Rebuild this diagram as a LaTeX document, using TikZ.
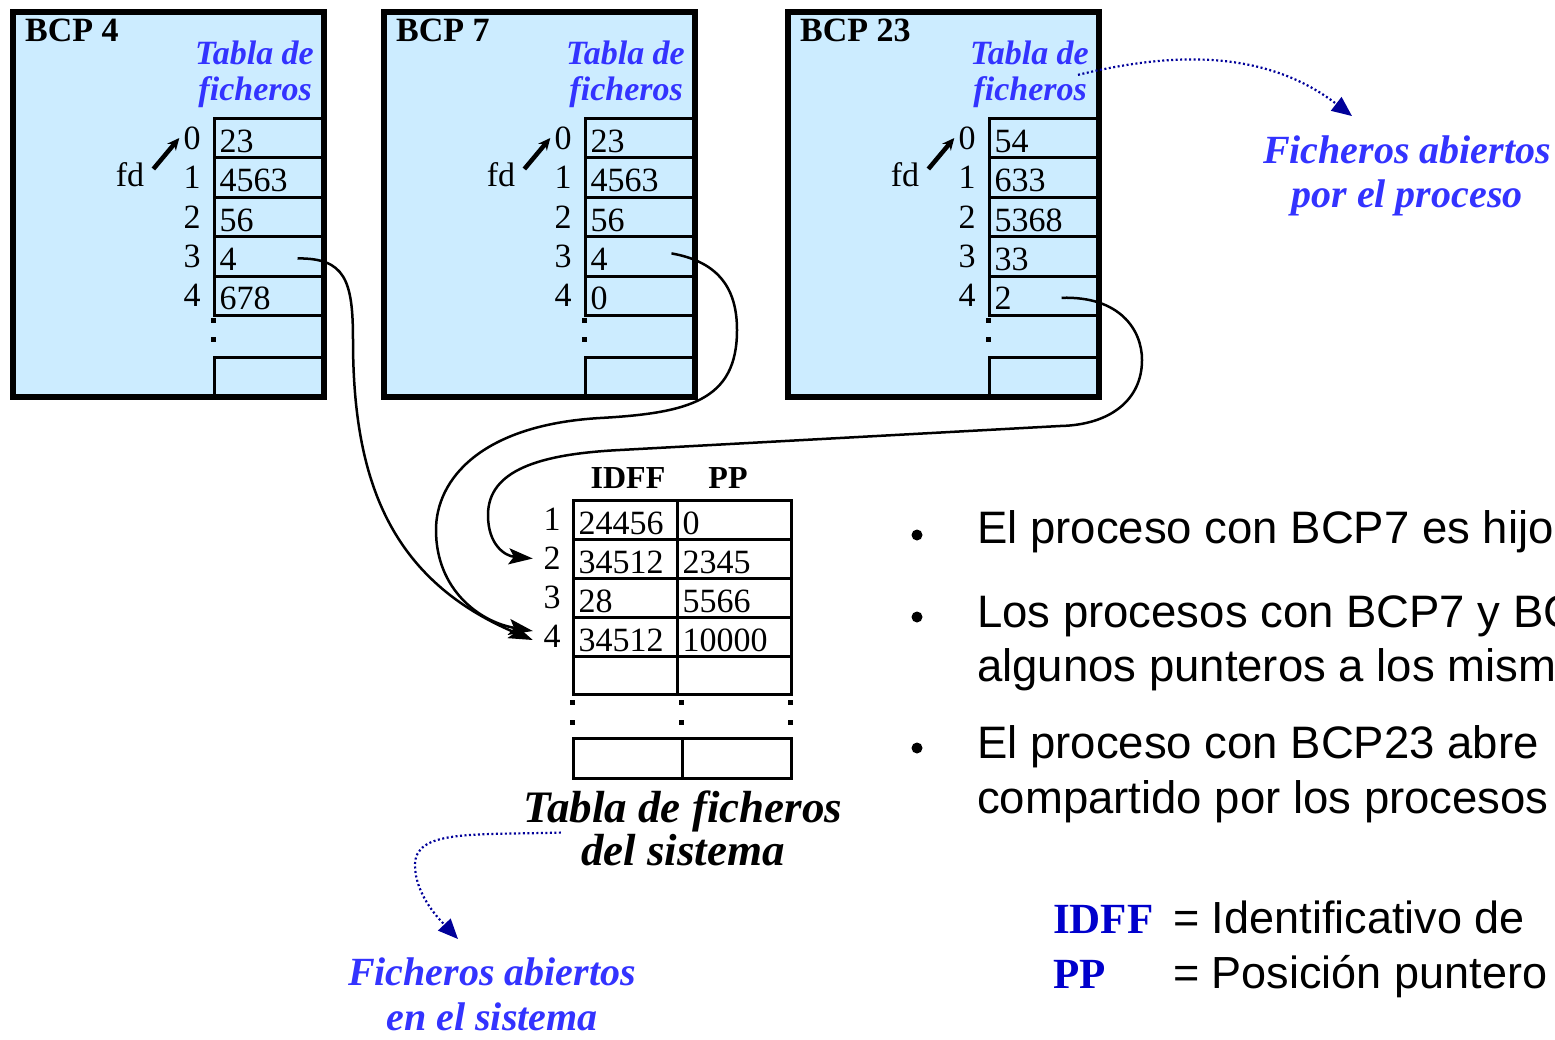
\documentclass[tikz,border=0pt]{standalone}
\usepackage{fontspec}
\setmainfont{Liberation Serif}
\setsansfont{Liberation Sans}
\usetikzlibrary{arrows.meta, positioning}
\definecolor{bcpfill}{RGB}{204,236,255}
\definecolor{tabblue}{RGB}{51,51,255}
\definecolor{noteblue}{RGB}{0,0,153}
\definecolor{keyblue}{RGB}{0,0,204}
\newcommand{\setfs}[2]{\fontsize{#1}{#2}\selectfont}

\begin{document}
\begin{tikzpicture}[x=1pt, y=-1pt,
    bcpbox/.style={draw=black, line width=5.5pt, fill=bcpfill, anchor=north west, inner sep=0pt, minimum width=311pt, minimum height=385pt},
    cell/.style={draw=black, line width=3pt, anchor=north west, inner xsep=5pt, inner ysep=0pt, text width=#1, text height=28pt, text depth=0pt, align=left, minimum height=39.4pt, font=\setfs{34}{40}},
    num/.style={inner sep=1pt, font=\setfs{34}{40}},
    bcptitle/.style={inner sep=1pt, anchor=base west, font=\setfs{34}{40}\bfseries},
    tabla/.style={inner sep=1pt, anchor=base east, text=tabblue, font=\setfs{34}{40}\bfseries\itshape},
    colhead/.style={inner sep=1pt, anchor=base, font=\setfs{32}{38}\bfseries},
    caption/.style={inner sep=1pt, anchor=base, font=\setfs{45}{52}\bfseries\itshape},
    bluelabel/.style={inner sep=1pt, anchor=base, text=tabblue, font=\setfs{40}{46}\bfseries\itshape},
    bultext/.style={inner sep=0pt, anchor=base west, font=\sffamily\setfs{45.5}{52}},
    keyword/.style={inner sep=0pt, anchor=base west, text=keyblue, font=\setfs{43}{50}\bfseries},
    bul/.style={circle, fill=black, inner sep=0pt, minimum size=11pt},
    dot/.style={fill=black, inner sep=0pt, minimum size=5pt},
    link/.style={line width=2.5pt, -{Stealth[length=24pt,width=16pt,inset=5pt]}},
    fdarrow/.style={line width=4.5pt, -{Stealth[length=12pt,width=11pt]}},
    note/.style={line width=2.2pt, noteblue, dash pattern=on 2pt off 2.5pt, -{Triangle[length=20pt,width=17pt]}}
]
\useasboundingbox (0,0) rectangle (1555,1039);
\clip (0,0) rectangle (1555,1039);

% Process control blocks with their file tables
\foreach \b/\L/\vals in {4/10/{23,4563,56,4,678}, 7/381/{23,4563,56,4,0}, 23/785/{54,633,5368,33,2}} {
  \node[bcpbox] (bcp\b) at (\L,9) {};
  \node[bcptitle] (tit\b) at (\L+14,41) {BCP \b};
  \node[tabla] (tab\b) at (\L+305,64) {Tabla de};
  \node[tabla] (fich\b) at (\L+303,100) {ficheros};
  \foreach \v [count=\r from 0] in \vals {
    \node[cell=98pt] (c\b-\r) at (\L+203,117+39.4*\r) {\v};
    \node[num] (i\b-\r) at (\L+182,138+39.4*\r) {\r};
  }
  \node[dot] (dt\b-1) at (\L+203,320) {};
  \node[dot] (dt\b-2) at (\L+203,339) {};
  \node[cell=98pt, minimum height=38pt] (c\b-x) at (\L+203,356) {};
  \node[num] (fd\b) at (\L+120,175) {fd};
  \draw[fdarrow] ([xshift=8pt,yshift=6pt]fd\b.east) -- ([xshift=-3pt]i\b-0.west);
}

% System file table
\node[colhead] (hid) at (628,488) {IDFF};
\node[colhead] (hpp) at (728,488) {PP};
\foreach \r/\id/\pp in {1/24456/0, 2/34512/2345, 3/28/5566, 4/34512/10000} {
  \node[cell=94pt, minimum height=39pt] (id\r) at (572,460+39*\r) {\id};
  \node[cell=104pt, minimum height=39pt] (pp\r) at (676,460+39*\r) {\pp};
  \node[num] (n\r) at (552,480.5+39*\r) {\r};
}
\node[cell=94pt, minimum height=38pt] (id5) at (572,655) {};
\node[cell=104pt, minimum height=38pt] (pp5) at (676,655) {};
\foreach \x [count=\k] in {572,681,790} {
  \node[dot] (sd\k-1) at (\x,702) {};
  \node[dot] (sd\k-2) at (\x,722) {};
}
\node[cell=99pt, minimum height=40pt] (id6) at (572,737) {};
\node[cell=99pt, minimum height=40pt] (pp6) at (681,737) {};
\node[caption] (systab1) at (683,822) {Tabla de ficheros};
\node[caption] (systab2) at (683,865) {del sistema};

% Pointers into the system table
\draw[link] ([xshift=29pt,yshift=-2pt]c4-3.center) .. controls (345,258) and (353,280) .. (353,340)
  .. controls (353,480) and (390,580) .. ([xshift=-9.5pt,yshift=-3.5pt]n4.west);
\draw[link] ([xshift=32pt,yshift=3pt]c7-3.center) .. controls (720,262) and (737,290) .. (737,330)
  .. controls (737,400) and (690,413) .. (600,418)
  .. controls (480,425) and (436,480) .. (436,530)
  .. controls (436,590) and (480,622) .. ([xshift=-9.5pt,yshift=5.5pt]n4.west);
\draw[link] ([xshift=18pt,yshift=-2pt]c23-4.center) .. controls (1120,296) and (1142,330) .. (1142,360)
  .. controls (1142,400) and (1110,425) .. (1060,426) -- (620,450)
  .. controls (540,454) and (488,470) .. (488,515)
  .. controls (488,545) and (505,556) .. ([xshift=-9.5pt]n2.west);

% Blue notes
\node[bluelabel] (fap1) at (1407,163) {Ficheros abiertos};
\node[bluelabel] (fap2) at (1407,207) {por el proceso};
\node[bluelabel] (fas1) at (492,985) {Ficheros abiertos};
\node[bluelabel] (fas2) at (492,1030) {en el sistema};
\draw[note] ([xshift=-10pt]fich23.north east) .. controls (1160,55) and (1260,45) .. ([xshift=-55pt,yshift=18pt]fap1.north);
\draw[note] ([xshift=-19pt]systab2.north west) .. controls (470,835) and (415,830) .. (415,865)
  .. controls (415,895) and (440,920) .. ([xshift=-34pt,yshift=17pt]fas1.north);

% Remarks
\node[bul] (b1) at (917,535) {};
\node[bul] (b2) at (917,617) {};
\node[bul] (b3) at (917,748) {};
\node[bultext] (t1) at (977,543) {El proceso con BCP7 es hijo};
\node[bultext] (t2a) at (977,627) {Los procesos con BCP7 y BC};
\node[bultext] (t2b) at (977,681) {algunos punteros a los mism};
\node[bultext] (t3a) at (977,758) {El proceso con BCP23 abre};
\node[bultext] (t3b) at (977,813) {compartido por los procesos};

% Legend
\node[keyword] (kid) at (1053,933) {IDFF};
\node[keyword] (kpp) at (1053,988) {PP};
\node[bultext, font=\sffamily\setfs{45}{52}] (lid) at (1173,933) {= Identificativo de};
\node[bultext, font=\sffamily\setfs{45}{52}] (lpp) at (1173,988) {= Posición puntero};

\end{tikzpicture}
\end{document}
